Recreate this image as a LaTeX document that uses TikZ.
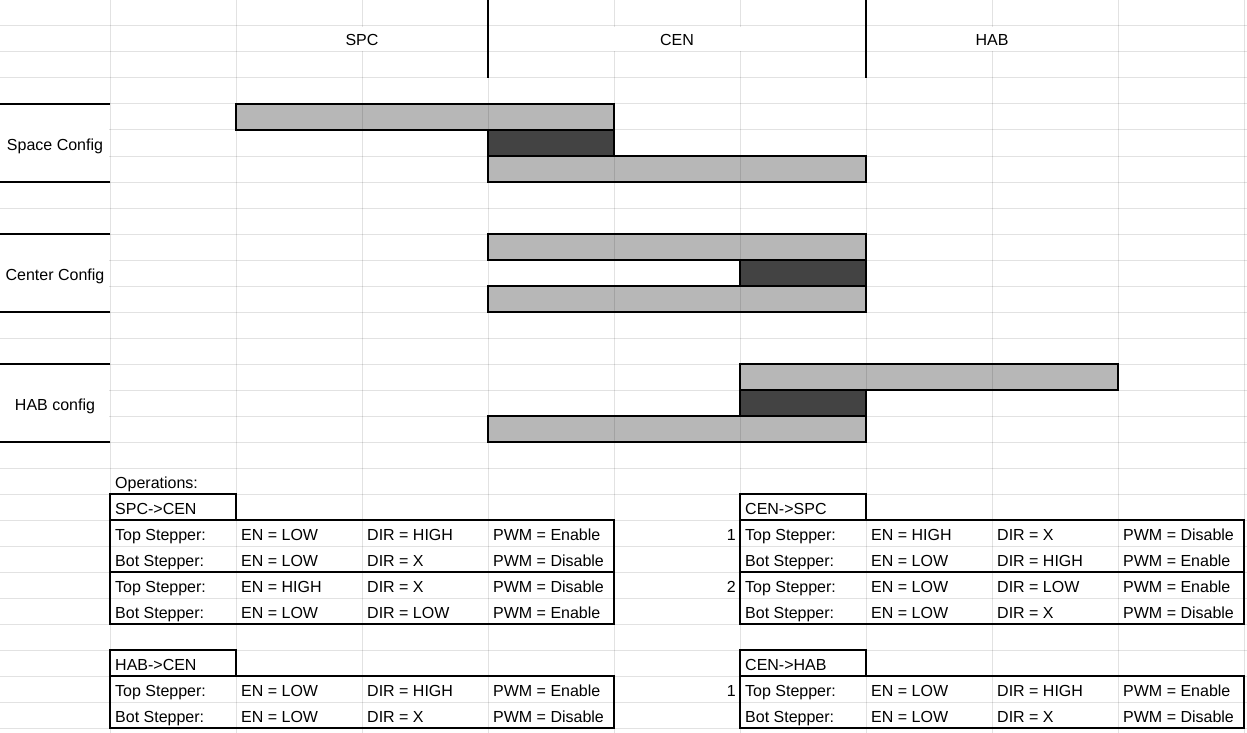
\documentclass[tikz,border=0pt]{standalone}
\usepackage{fontspec}
\setmainfont{Liberation Sans}
\definecolor{barlight}{HTML}{B7B7B7}
\definecolor{bardark}{HTML}{434343}
\definecolor{inktext}{HTML}{000000}
% one row of an operation table: prefix, left x, row bottom y, four cell texts
\newcommand\opRow[7]{%
  \node[cell] (#1a) at (#2+5,#3-5.5) {#4};
  \node[cell] (#1b) at (#2+131,#3-5.5) {#5};
  \node[cell] (#1c) at (#2+257,#3-5.5) {#6};
  \node[cell] (#1d) at (#2+383,#3-5.5) {#7};
}
\begin{document}
\begin{tikzpicture}[x=1pt,y=-1pt,
  gridline/.style={draw=black,draw opacity=0.115,line width=1pt},
  rule/.style={draw=black,line width=1.1pt},
  lightbar/.style={fill=barlight},
  darkbar/.style={fill=bardark},
  barframe/.style={draw=black,line width=1.1pt},
  txt/.style={inner sep=0pt,text=inktext,font=\fontsize{16}{19}\selectfont},
  cell/.style={txt,anchor=base west},
  head/.style={txt,anchor=base},
  stepnum/.style={txt,anchor=base east}]
\useasboundingbox (0,0) rectangle (1247,733);
\fill[white] (0,0) rectangle (1247,733);

% bar fills (gridlines show through them)
\fill[lightbar] (236,104) rectangle (614,130);
\fill[darkbar]  (488,130) rectangle (614,156);
\fill[lightbar] (488,156) rectangle (866,182);
\fill[lightbar] (488,234) rectangle (866,260);
\fill[darkbar]  (740,260) rectangle (866,286);
\fill[lightbar] (488,286) rectangle (866,312);
\fill[lightbar] (740,364) rectangle (1118,390);
\fill[darkbar]  (740,390) rectangle (866,416);
\fill[lightbar] (488,416) rectangle (866,442);

% sheet gridlines
\foreach \x in {110,236,...,1244} \draw[gridline] (\x,0) -- (\x,733);
\foreach \y in {0,26,...,728} \draw[gridline] (0,\y) -- (1247,\y);

% merged cells
\fill[white] (236.8,26.8) rectangle (487.2,51.2);
\fill[white] (488.8,26.8) rectangle (865.2,51.2);
\fill[white] (866.8,26.8) rectangle (1117.2,51.2);
\fill[white] (0,104.8) rectangle (109.2,181.2);
\fill[white] (0,234.8) rectangle (109.2,311.2);
\fill[white] (0,364.8) rectangle (109.2,441.2);

% bar outlines
\draw[barframe] (236,104) rectangle (614,130);
\draw[barframe] (488,130) rectangle (614,156);
\draw[barframe] (488,156) rectangle (866,182);
\draw[barframe] (488,234) rectangle (866,260);
\draw[barframe] (740,260) rectangle (866,286);
\draw[barframe] (488,286) rectangle (866,312);
\draw[barframe] (740,364) rectangle (1118,390);
\draw[barframe] (740,390) rectangle (866,416);
\draw[barframe] (488,416) rectangle (866,442);

% header separators and row-label rules
\draw[rule] (488,0) -- (488,78);
\draw[rule] (866,0) -- (866,78);
\foreach \y in {104,182,234,312,364,442} \draw[rule] (0,\y) -- (110,\y);

% headers and row labels
\node[head] (spc) at (362,46) {SPC};
\node[head] (cen) at (677,46) {CEN};
\node[head] (hab) at (992,46) {HAB};
\node[head] (spaceconf)  at (55,150) {Space Config};
\node[head] (centerconf) at (55,280) {Center Config};
\node[head] (habconf)    at (55,410) {HAB config};

\node[cell] (ops) at (115,488.5) {Operations:};

% SPC->CEN
\draw[rule] (110,494) rectangle (236,520);
\draw[rule] (110,520) rectangle (614,624);
\draw[rule] (110,572) -- (614,572);
\node[cell] (t1) at (115,514.5) {SPC->CEN};
\opRow{sc1}{110}{546}{Top Stepper:}{EN = LOW}{DIR = HIGH}{PWM = Enable}
\opRow{sc2}{110}{572}{Bot Stepper:}{EN = LOW}{DIR = X}{PWM = Disable}
\opRow{sc3}{110}{598}{Top Stepper:}{EN = HIGH}{DIR = X}{PWM = Disable}
\opRow{sc4}{110}{624}{Bot Stepper:}{EN = LOW}{DIR = LOW}{PWM = Enable}

% CEN->SPC
\draw[rule] (740,494) rectangle (866,520);
\draw[rule] (740,520) rectangle (1244,624);
\draw[rule] (740,572) -- (1244,572);
\node[cell] (t2) at (745,514.5) {CEN->SPC};
\node[stepnum] (n1) at (736,540.5) {1};
\node[stepnum] (n2) at (736,592.5) {2};
\opRow{cs1}{740}{546}{Top Stepper:}{EN = HIGH}{DIR = X}{PWM = Disable}
\opRow{cs2}{740}{572}{Bot Stepper:}{EN = LOW}{DIR = HIGH}{PWM = Enable}
\opRow{cs3}{740}{598}{Top Stepper:}{EN = LOW}{DIR = LOW}{PWM = Enable}
\opRow{cs4}{740}{624}{Bot Stepper:}{EN = LOW}{DIR = X}{PWM = Disable}

% HAB->CEN
\draw[rule] (110,650) rectangle (236,676);
\draw[rule] (110,676) rectangle (614,728);
\node[cell] (t3) at (115,670.5) {HAB->CEN};
\opRow{hc1}{110}{702}{Top Stepper:}{EN = LOW}{DIR = HIGH}{PWM = Enable}
\opRow{hc2}{110}{728}{Bot Stepper:}{EN = LOW}{DIR = X}{PWM = Disable}

% CEN->HAB
\draw[rule] (740,650) rectangle (866,676);
\draw[rule] (740,676) rectangle (1244,728);
\node[cell] (t4) at (745,670.5) {CEN->HAB};
\node[stepnum] (n3) at (736,696.5) {1};
\opRow{ch1}{740}{702}{Top Stepper:}{EN = LOW}{DIR = HIGH}{PWM = Enable}
\opRow{ch2}{740}{728}{Bot Stepper:}{EN = LOW}{DIR = X}{PWM = Disable}
\end{tikzpicture}
\end{document}
